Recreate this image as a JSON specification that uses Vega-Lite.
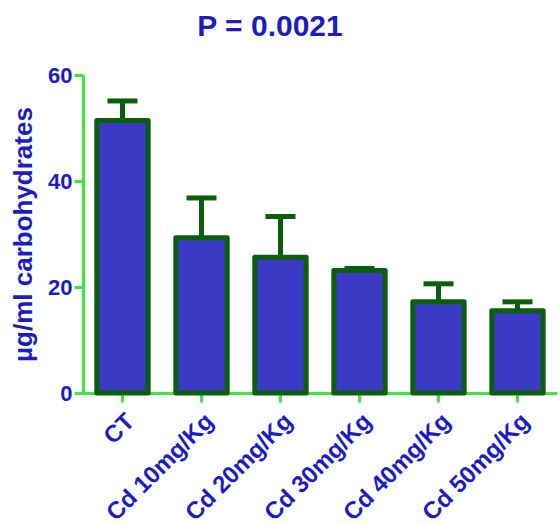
{
  "$schema": "https://vega.github.io/schema/vega-lite/v6.json",
  "autosize": {"type": "none"},
  "width": 474,
  "height": 318,
  "padding": {"left": 83, "top": 75, "right": 3, "bottom": 131},
  "background": "white",
  "config": {
    "view": {"stroke": null},
    "font": "Liberation Sans"
  },
  "title": {
    "text": "P = 0.0021",
    "fontSize": 30,
    "fontWeight": "bold",
    "color": "#1c1cc4",
    "font": "Liberation Sans",
    "anchor": "middle",
    "frame": "group",
    "baseline": "alphabetic",
    "offset": 27,
    "dx": -50,
    "dy": 29
  },
  "data": {
    "values": [
      {"group": "CT", "mean": 51.4, "upper": 55.1},
      {"group": "Cd 10mg/Kg", "mean": 29.3, "upper": 36.8},
      {"group": "Cd 20mg/Kg", "mean": 25.6, "upper": 33.3},
      {"group": "Cd 30mg/Kg", "mean": 23.1, "upper": 23.5},
      {"group": "Cd 40mg/Kg", "mean": 17.2, "upper": 20.6},
      {"group": "Cd 50mg/Kg", "mean": 15.5, "upper": 17.2}
    ]
  },
  "encoding": {
    "x": {
      "field": "group",
      "type": "nominal",
      "sort": null,
      "scale": {"paddingInner": 0.35, "paddingOuter": 0.175},
      "axis": {
        "title": null,
        "labelAngle": -45,
        "labelAlign": "right",
        "labelBaseline": "top",
        "labelPadding": 7,
        "labelFontSize": 24,
        "labelFontWeight": "bold",
        "labelColor": "#1c1cc4",
        "labelFont": "Liberation Sans",
        "domainColor": "#3de83d",
        "domainWidth": 3,
        "tickColor": "#3de83d",
        "tickWidth": 3,
        "tickSize": 9,
        "grid": false
      }
    }
  },
  "layer": [
    {
      "mark": {"type": "rule", "color": "#0b5e0b", "strokeWidth": 5},
      "encoding": {
        "y": {"field": "mean", "type": "quantitative"},
        "y2": {"field": "upper"}
      }
    },
    {
      "mark": {"type": "bar", "fill": "#3a3ac4", "stroke": "#0b5e0b", "strokeWidth": 5, "strokeJoin": "round"},
      "encoding": {
        "y": {
          "field": "mean",
          "type": "quantitative",
          "scale": {"domain": [0, 60], "nice": false},
          "axis": {
            "title": "µg/ml carbohydrates",
            "titleFontSize": 26,
            "titleFontWeight": "bold",
            "titleColor": "#1c1cc4",
            "titleFont": "Liberation Sans",
            "titlePadding": 11,
            "values": [0, 20, 40, 60],
            "labelFontSize": 22,
            "labelFontWeight": "bold",
            "labelColor": "#1c1cc4",
            "labelFont": "Liberation Sans",
            "labelPadding": 2,
            "domainColor": "#3de83d",
            "domainWidth": 3,
            "tickColor": "#3de83d",
            "tickWidth": 3,
            "tickSize": 9,
            "grid": false
          }
        }
      }
    },
    {
      "mark": {"type": "tick", "color": "#0b5e0b", "opacity": 1, "size": 30, "thickness": 5, "orient": "horizontal"},
      "encoding": {
        "y": {"field": "upper", "type": "quantitative"}
      }
    }
  ]
}
